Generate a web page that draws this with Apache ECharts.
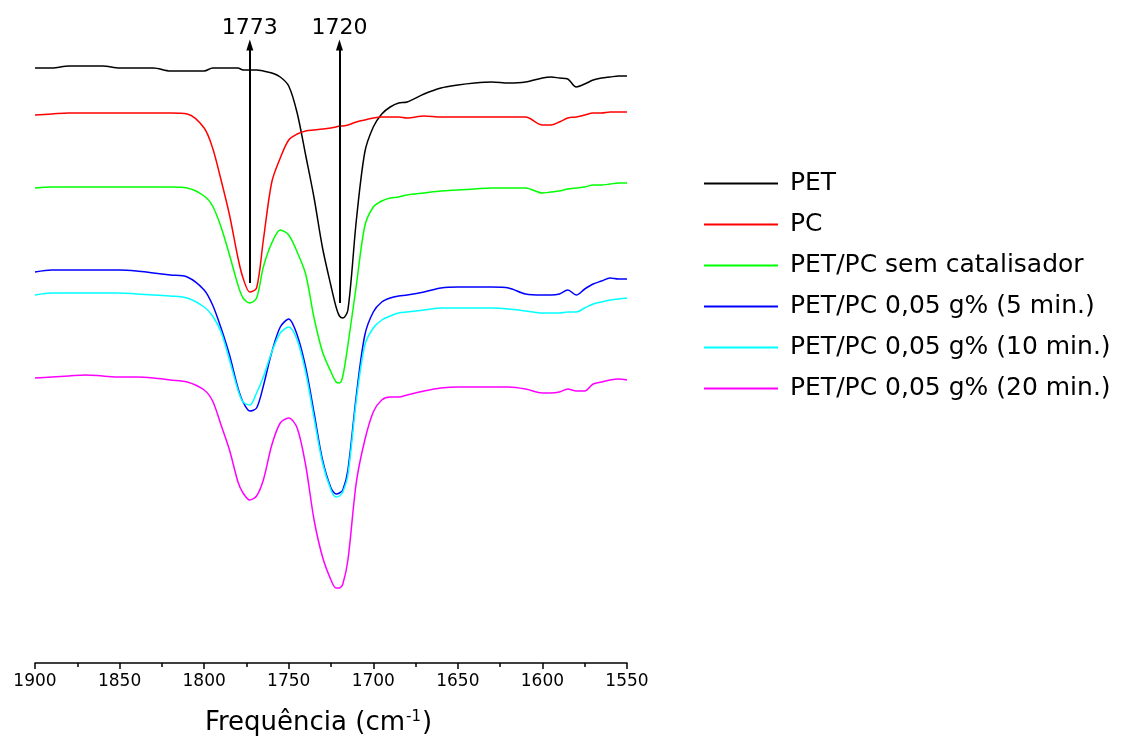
<!DOCTYPE html>
<html>
<head>
<meta charset="utf-8">
<script src="https://cdn.jsdelivr.net/npm/echarts@6/dist/echarts.min.js"></script>
<style>
html, body { margin: 0; padding: 0; background: #fff; }
#myChart { width: 1147px; height: 747px; }
</style>
</head>
<body>
<div id="myChart"></div>
<script>
// wavenumber (cm-1)
const freq = [1900, 1890, 1880, 1870, 1860, 1850, 1840, 1830, 1820, 1810,
    1800, 1795, 1790, 1785, 1780, 1777, 1773, 1769, 1765, 1760,
    1755, 1750, 1745, 1740, 1735, 1730, 1725, 1722, 1720, 1718,
    1715, 1710, 1705, 1700, 1695, 1690, 1685, 1680, 1670, 1660,
    1650, 1640, 1630, 1620, 1610, 1600, 1595, 1590, 1585, 1580,
    1575, 1570, 1565, 1560, 1555, 1550];

// transmittance, arbitrary units (curves are stacked with an offset)
const pet = [595, 595, 597, 597, 597, 595, 595, 595, 592, 592,
    592, 595, 595, 595, 595, 593, 593, 593, 592, 590,
    586, 577, 550, 508, 465, 415, 377, 356, 347, 345,
    353, 443, 511, 536, 549, 556, 560, 561, 569, 575,
    578, 580, 581, 580, 581, 585, 586, 585, 584, 576,
    579, 583, 585, 586, 587, 587];

const pc = [548, 549, 550, 550, 550, 550, 550, 550, 550, 549,
    535, 515, 483, 448, 405, 385, 371, 375, 423, 481,
    505, 523, 529, 532, 533, 534, 535, 536, 537, 537,
    538, 541, 543, 545, 546, 546, 546, 545, 547, 546,
    546, 546, 546, 546, 546, 538, 538, 541, 545, 546,
    548, 550, 550, 551, 551, 551];

const semCat = [475, 476, 476, 476, 476, 476, 476, 476, 476, 475,
    467, 457, 436, 408, 378, 365, 360, 365, 396, 420,
    433, 428, 411, 389, 345, 311, 291, 281, 280, 287,
    318, 378, 437, 456, 462, 465, 466, 468, 470, 472,
    473, 474, 475, 475, 475, 470, 471, 472, 474, 475,
    476, 478, 478, 479, 480, 480];

const cat5 = [391, 393, 393, 393, 393, 393, 392, 390, 388, 386,
    373, 358, 335, 308, 275, 261, 252, 255, 277, 311,
    336, 344, 328, 296, 250, 203, 175, 169, 170, 173,
    193, 268, 328, 351, 361, 365, 367, 368, 371, 375,
    376, 376, 376, 375, 369, 368, 368, 369, 373, 368,
    374, 379, 382, 385, 384, 384];

const cat10 = [368, 370, 370, 370, 370, 370, 369, 368, 367, 365,
    356, 347, 331, 303, 273, 261, 258, 270, 286, 311,
    330, 336, 323, 291, 245, 200, 173, 166, 167, 171,
    188, 263, 318, 335, 343, 347, 350, 351, 353, 355,
    355, 355, 355, 354, 352, 350, 350, 350, 351, 351,
    355, 359, 361, 363, 364, 365];

const cat20 = [285, 286, 287, 288, 287, 286, 286, 285, 283, 281,
    273, 262, 238, 213, 181, 170, 163, 167, 183, 218,
    240, 245, 235, 198, 143, 106, 83, 75, 75, 79,
    103, 181, 223, 251, 263, 266, 266, 268, 272, 275,
    276, 276, 276, 276, 274, 270, 270, 271, 274, 272,
    272, 279, 281, 283, 284, 283];

const seriesNames = ['PET', 'PC', 'PET/PC sem catalisador', 'PET/PC 0,05 g% (5 min.)',
    'PET/PC 0,05 g% (10 min.)', 'PET/PC 0,05 g% (20 min.)'];
const seriesColors = ['#000000', '#ff0000', '#00ff00', '#0000ff', '#00ffff', '#ff00ff'];

// marked bands: wavenumber, arrow start / end (same units as the curves)
const peaks = [1773, 1720];
const arrowFrom = [380, 360];
const arrowTo = 618;

const allData = [pet, pc, semCat, cat5, cat10, cat20];

let series = allData.map((vals, k) => {
    return {
        name: seriesNames[k],
        type: 'line',
        data: freq.map((f, i) => [f, vals[i]]),
        symbol: 'none',
        smooth: 0.3,
        color: seriesColors[k],
        lineStyle: { width: 1.5, color: seriesColors[k] },
        z: 2 + k
    }
});

series[0].markLine = {
    silent: true,
    symbol: ['none', 'triangle'],
    symbolSize: [7, 11],
    lineStyle: { color: '#000', width: 2, type: 'solid' },
    label: {
        show: true,
        position: 'end',
        distance: 6,
        color: '#000',
        fontSize: 22,
        fontFamily: 'DejaVu Sans',
        formatter: (p) => String(p.data.peak)
    },
    data: peaks.map((p, i) => [
        { coord: [p, arrowFrom[i]], peak: p },
        { coord: [p, arrowTo], peak: p }
    ])
};

let option = {
    animation: false,
    backgroundColor: '#fff',
    textStyle: { fontFamily: 'DejaVu Sans' },
    grid: {
        left: 35,
        right: 520,
        top: 43,
        bottom: 84
    },
    legend: {
        orient: 'vertical',
        left: 699,
        top: 166,
        icon: 'rect',
        itemWidth: 74,
        itemHeight: 2,
        itemGap: 16,
        data: seriesNames,
        formatter: (name) => '{t|' + name + '}',
        textStyle: {
            fontSize: 25,
            color: '#000',
            fontFamily: 'DejaVu Sans',
            rich: {
                t: { fontSize: 25, lineHeight: 28, color: '#000', fontFamily: 'DejaVu Sans', padding: [0, 0, 0, 7] }
            }
        }
    },
    xAxis: {
        type: 'value',
        inverse: true,
        min: 1550,
        max: 1900,
        interval: 50,
        name: 'Frequência (cm{sup|-1})',
        nameLocation: 'middle',
        nameGap: 47,
        nameTextStyle: {
            fontSize: 26,
            color: '#000',
            fontFamily: 'DejaVu Sans',
            padding: [0, 25, 0, 0],
            rich: {
                sup: { fontSize: 15, verticalAlign: 'top', padding: [0, 1, 0, 1], color: '#000' }
            }
        },
        axisLine: { show: true, onZero: false, lineStyle: { color: '#000', width: 1.5 } },
        axisTick: { show: true, inside: false, length: 6, lineStyle: { color: '#000', width: 1.5 } },
        minorTick: { show: true, splitNumber: 2, length: 4, lineStyle: { color: '#000', width: 1.5 } },
        axisLabel: {
            color: '#000',
            fontSize: 17,
            margin: 10,
            fontFamily: 'DejaVu Sans',
            formatter: (v) => String(v)
        },
        splitLine: { show: false }
    },
    yAxis: {
        type: 'value',
        min: 0,
        max: 620,
        show: false
    },
    series: series
};

const myChart = echarts.init(document.getElementById('myChart'));
myChart.setOption(option);
window.addEventListener('resize', () => {
    myChart.resize();
});
</script>
</body>
</html>
